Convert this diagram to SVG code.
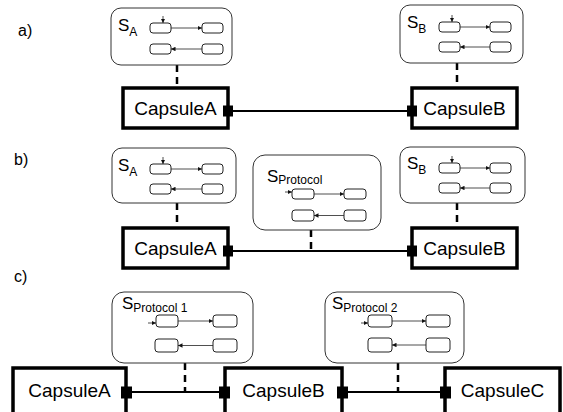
<svg xmlns="http://www.w3.org/2000/svg" width="563" height="412" viewBox="0 0 563 412">
<style>
text{font-family:"Liberation Sans",Arial,sans-serif;fill:#000}
.tag{font-size:16px}
.cname{font-size:19px;text-anchor:middle}
.lbl{font-size:17px}
.sub{font-size:12px}
.sm{fill:#fff;stroke:#333;stroke-width:1}
.st{fill:#fff;stroke:#222;stroke-width:1}
.tr{stroke:#222;stroke-width:0.8;fill:none;marker-end:url(#ah)}
.cap{fill:#fff;stroke:#000;stroke-width:3.5}
.port{fill:#000}
.conn{stroke:#000;stroke-width:2;fill:none}
.dash{stroke:#000;stroke-width:2.5;stroke-dasharray:7 5;fill:none}
</style>
<defs>
<marker id="ah" viewBox="0 0 6 6" refX="6" refY="3" markerWidth="4.5" markerHeight="4.5" markerUnits="userSpaceOnUse" orient="auto">
<path d="M0,0 L6,3 L0,6 z" fill="#111"/>
</marker>
</defs>

<text class="tag" x="18" y="36">a)</text>
<text class="tag" x="14" y="165">b)</text>
<text class="tag" x="14" y="282">c)</text>

<g id="connectors">
<line class="dash" x1="177" y1="65" x2="177" y2="88"/>
<line class="dash" x1="457" y1="63" x2="457" y2="88"/>
<line class="conn" x1="228" y1="111" x2="412" y2="111"/>
<line class="dash" x1="177" y1="203" x2="177" y2="228"/>
<line class="dash" x1="457" y1="203" x2="457" y2="228"/>
<line class="dash" x1="311" y1="230" x2="311" y2="251"/>
<line class="conn" x1="228" y1="251" x2="412" y2="251"/>
<line class="dash" x1="185" y1="363" x2="185" y2="392"/>
<line class="dash" x1="398" y1="363" x2="398" y2="392"/>
<line class="conn" x1="126" y1="392" x2="225" y2="392"/>
<line class="conn" x1="342" y1="392" x2="446" y2="392"/>
</g>

<!-- a) -->
<g id="a-SA">
<rect class="sm" x="111" y="8" width="121" height="57" rx="10"/>
<text class="lbl" x="118" y="31">S<tspan class="sub" dy="5">A</tspan></text>
<rect class="st" x="150" y="23" width="21" height="10" rx="3"/>
<rect class="st" x="202" y="23" width="21" height="10" rx="3"/>
<rect class="st" x="150" y="44" width="21" height="10" rx="3"/>
<rect class="st" x="202" y="44" width="21" height="10" rx="3"/>
<line class="tr" x1="163" y1="16" x2="163" y2="23"/>
<line class="tr" x1="171" y1="28" x2="202" y2="28"/>
<line class="tr" x1="202" y1="49" x2="171" y2="49"/>
</g>
<g id="a-SB">
<rect class="sm" x="400" y="5" width="123" height="58" rx="10"/>
<text class="lbl" x="407" y="28">S<tspan class="sub" dy="5">B</tspan></text>
<rect class="st" x="439" y="22" width="21" height="10" rx="3"/>
<rect class="st" x="490" y="22" width="21" height="10" rx="3"/>
<rect class="st" x="439" y="42" width="21" height="10" rx="3"/>
<rect class="st" x="490" y="42" width="21" height="10" rx="3"/>
<line class="tr" x1="452" y1="15" x2="452" y2="22"/>
<line class="tr" x1="460" y1="27" x2="490" y2="27"/>
<line class="tr" x1="490" y1="47" x2="460" y2="47"/>
</g>
<g id="a-CapsuleA">
<rect class="cap" x="123" y="88" width="105" height="40"/>
<text class="cname" x="175.5" y="115">CapsuleA</text>
<rect class="port" x="223" y="105.5" width="10" height="11"/>
</g>
<g id="a-CapsuleB">
<rect class="cap" x="412" y="88" width="105" height="40"/>
<text class="cname" x="464.5" y="115">CapsuleB</text>
<rect class="port" x="407" y="105.5" width="10" height="11"/>
</g>

<!-- b) -->
<g id="b-SA">
<rect class="sm" x="112" y="148" width="124" height="55" rx="10"/>
<text class="lbl" x="118" y="171">S<tspan class="sub" dy="5">A</tspan></text>
<rect class="st" x="150" y="164" width="21" height="10" rx="3"/>
<rect class="st" x="202" y="164" width="21" height="10" rx="3"/>
<rect class="st" x="150" y="184" width="21" height="10" rx="3"/>
<rect class="st" x="202" y="184" width="21" height="10" rx="3"/>
<line class="tr" x1="163" y1="157" x2="163" y2="164"/>
<line class="tr" x1="171" y1="169" x2="202" y2="169"/>
<line class="tr" x1="202" y1="189" x2="171" y2="189"/>
</g>
<g id="b-SProtocol">
<rect class="sm" x="253" y="155" width="128" height="75" rx="12"/>
<text class="lbl" x="267" y="182">S<tspan class="sub" dy="2">Protocol</tspan></text>
<rect class="st" x="292" y="189" width="22" height="10" rx="3"/>
<rect class="st" x="344" y="189" width="22" height="10" rx="3"/>
<rect class="st" x="292" y="210" width="22" height="11" rx="3"/>
<rect class="st" x="344" y="210" width="22" height="11" rx="3"/>
<line class="tr" x1="285" y1="192" x2="292" y2="192"/>
<line class="tr" x1="314" y1="194" x2="344" y2="194"/>
<line class="tr" x1="344" y1="215.5" x2="314" y2="215.5"/>
</g>
<g id="b-SB">
<rect class="sm" x="400" y="147" width="125" height="56" rx="10"/>
<text class="lbl" x="407" y="169">S<tspan class="sub" dy="5">B</tspan></text>
<rect class="st" x="439" y="163" width="21" height="10" rx="3"/>
<rect class="st" x="490" y="163" width="21" height="10" rx="3"/>
<rect class="st" x="439" y="183" width="21" height="10" rx="3"/>
<rect class="st" x="490" y="183" width="21" height="10" rx="3"/>
<line class="tr" x1="452" y1="156" x2="452" y2="163"/>
<line class="tr" x1="460" y1="168" x2="490" y2="168"/>
<line class="tr" x1="490" y1="188" x2="460" y2="188"/>
</g>
<g id="b-CapsuleA">
<rect class="cap" x="123" y="228" width="105" height="40"/>
<text class="cname" x="175.5" y="255">CapsuleA</text>
<rect class="port" x="223" y="245.5" width="10" height="11"/>
</g>
<g id="b-CapsuleB">
<rect class="cap" x="412" y="228" width="105" height="40"/>
<text class="cname" x="464.5" y="255">CapsuleB</text>
<rect class="port" x="407" y="245.5" width="10" height="11"/>
</g>

<!-- c) -->
<g id="c-SProtocol1">
<rect class="sm" x="112" y="292" width="141" height="71" rx="12"/>
<text class="lbl" x="122" y="309">S<tspan class="sub" dy="3">Protocol 1</tspan></text>
<rect class="st" x="156" y="315" width="22" height="12" rx="3"/>
<rect class="st" x="213" y="315" width="24" height="12" rx="3"/>
<rect class="st" x="155" y="339" width="23" height="13" rx="3"/>
<rect class="st" x="213" y="339" width="24" height="13" rx="3"/>
<line class="tr" x1="148" y1="323" x2="156" y2="323"/>
<line class="tr" x1="178" y1="321" x2="213" y2="321"/>
<line class="tr" x1="213" y1="345.5" x2="178" y2="345.5"/>
</g>
<g id="c-SProtocol2">
<rect class="sm" x="325" y="292" width="139" height="71" rx="12"/>
<text class="lbl" x="332" y="309">S<tspan class="sub" dy="3">Protocol 2</tspan></text>
<rect class="st" x="368" y="315" width="24" height="12" rx="3"/>
<rect class="st" x="426" y="315" width="24" height="12" rx="3"/>
<rect class="st" x="368" y="338" width="24" height="14" rx="3"/>
<rect class="st" x="426" y="338" width="24" height="14" rx="3"/>
<line class="tr" x1="361" y1="323" x2="368" y2="323"/>
<line class="tr" x1="392" y1="321" x2="426" y2="321"/>
<line class="tr" x1="426" y1="345" x2="392" y2="345"/>
</g>
<g id="c-CapsuleA">
<rect class="cap" x="13" y="368" width="113" height="50"/>
<text class="cname" x="69.5" y="397">CapsuleA</text>
<rect class="port" x="121" y="386.5" width="11" height="12"/>
</g>
<g id="c-CapsuleB">
<rect class="cap" x="225" y="368" width="117" height="50"/>
<text class="cname" x="283.5" y="397">CapsuleB</text>
<rect class="port" x="219" y="386.5" width="11" height="12"/>
<rect class="port" x="337" y="386.5" width="11" height="12"/>
</g>
<g id="c-CapsuleC">
<rect class="cap" x="445" y="368" width="115" height="50"/>
<text class="cname" x="502.5" y="397">CapsuleC</text>
<rect class="port" x="440" y="386.5" width="11" height="12"/>
</g>
</svg>
